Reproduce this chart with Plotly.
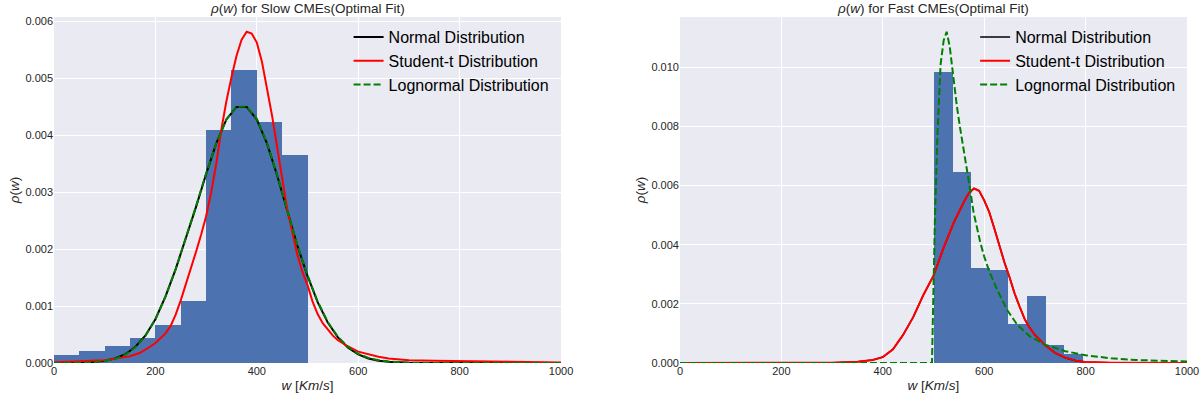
import plotly.graph_objects as go

# ---------------- data ----------------
# Slow CMEs histogram (bin edges km/s, density)
slow_edges = [0, 50, 100, 150, 200, 250, 300, 350, 400, 450, 500]
slow_density = [0.000147, 0.000206, 0.00030, 0.000448, 0.000673, 0.001097,
                0.004094, 0.00514, 0.00424, 0.00365]

# Slow CMEs: normal fit (lognormal nearly identical)
slow_norm_x = [0, 20, 40, 60, 80, 100, 120, 140, 160, 180, 200, 220, 240, 260,
               280, 300, 320, 340, 360, 380, 400, 420, 440, 460, 480, 500, 520,
               540, 560, 580, 600, 620, 640, 660, 680, 700, 750, 800, 900, 1000]
slow_norm_y = [0.000001, 0.000002, 0.000005, 0.00001, 0.00002, 0.00004, 0.00008,
               0.00015, 0.00028, 0.00048, 0.00077, 0.00117, 0.00165, 0.00218,
               0.00274, 0.00332, 0.00386, 0.00428, 0.0045, 0.0045, 0.00428,
               0.00386, 0.0033, 0.00268, 0.00206, 0.00153, 0.00107, 0.00071,
               0.00045, 0.00027, 0.00015, 0.00008, 0.00004, 0.00002, 0.00001,
               0.000004, 0.000001, 0.0, 0.0, 0.0]
slow_logn_x = slow_norm_x
slow_logn_y = [0.0, 0.0, 0.000002, 0.000006, 0.000015, 0.000035, 0.00007,
               0.00014, 0.00027, 0.00047, 0.00077, 0.00117, 0.00165, 0.00219,
               0.00275, 0.00333, 0.00386, 0.00428, 0.0045, 0.00451, 0.00429,
               0.00387, 0.00331, 0.00269, 0.00207, 0.00154, 0.00108, 0.00072,
               0.00046, 0.00028, 0.00016, 0.00009, 0.00005, 0.000025, 0.000012,
               0.000006, 0.000001, 0.0, 0.0, 0.0]

# Slow CMEs: Student-t fit
slow_t_x = [0, 50, 100, 130, 150, 170, 180, 190, 200, 210, 220, 230, 240, 250,
            260, 270, 280, 290, 300, 310, 320, 330, 340, 350, 360, 370, 380,
            390, 400, 410, 420, 430, 440, 450, 460, 470, 480, 490, 500, 510,
            520, 530, 540, 550, 560, 570, 580, 600, 620, 640, 660, 680, 700,
            750, 800, 900, 1000]
slow_t_y = [0.000015, 0.00003, 0.00005, 0.00009, 0.00012, 0.00018, 0.00023,
            0.00029, 0.00035, 0.00043, 0.00052, 0.00065, 0.00085, 0.0011,
            0.00137, 0.00165, 0.00195, 0.00225, 0.00258, 0.003, 0.0035, 0.0041,
            0.0046, 0.00502, 0.0054, 0.00568, 0.00582, 0.00579, 0.00563, 0.0053,
            0.00485, 0.00435, 0.0038, 0.00322, 0.0027, 0.0023, 0.0019, 0.0016,
            0.00137, 0.00108, 0.00086, 0.0007, 0.00058, 0.00048, 0.0004, 0.00034,
            0.00029, 0.0002, 0.00015, 0.00011, 0.00008, 0.00006, 0.00005,
            0.00004, 0.00003, 0.00002, 0.00001]

# Fast CMEs histogram
fast_edges = [501, 538, 574, 611, 647, 684, 721, 757, 794]
fast_density = [0.00983, 0.00645, 0.00321, 0.00314, 0.00132, 0.00226, 0.0006,
                0.000305]

# Fast CMEs: Student-t fit (normal fit lies underneath it)
fast_t_x = [0, 300, 350, 380, 400, 420, 440, 460, 480, 500, 520, 540, 560, 570,
            580, 590, 600, 610, 620, 630, 640, 650, 660, 670, 680, 690, 700,
            720, 740, 760, 780, 800, 850, 1000]
fast_t_y = [0.0, 0.00001, 0.00004, 0.0001, 0.0002, 0.00046, 0.00095, 0.00155,
            0.0023, 0.00295, 0.0039, 0.00475, 0.00545, 0.00575, 0.0059,
            0.00582, 0.0055, 0.0051, 0.00455, 0.00395, 0.0034, 0.0029, 0.00235,
            0.0019, 0.00148, 0.00118, 0.00095, 0.0006, 0.00034, 0.00018,
            0.00008, 0.00003, 0.00001, 0.0]
fast_norm_x = fast_t_x
fast_norm_y = fast_t_y

# Fast CMEs: lognormal fit
fast_logn_x = [0, 497, 500, 503, 508, 514, 520, 526, 532, 539, 546, 552, 559,
               566, 572, 579, 586, 592, 600, 610, 625, 645, 665, 690, 720, 760,
               800, 850, 900, 950, 1000]
fast_logn_y = [0.0, 0.0, 0.0025, 0.005, 0.0078, 0.0101, 0.0109, 0.0112, 0.0107,
               0.0096, 0.0087, 0.008, 0.0073, 0.0066, 0.0059, 0.0051, 0.0045,
               0.0041, 0.0036, 0.0031, 0.0025, 0.0018, 0.0013, 0.0009, 0.00062,
               0.0004, 0.00026, 0.00016, 0.0001, 0.00007, 0.00005]

x_ticks = [0, 200, 400, 600, 800, 1000]
slow_y_ticks = [0.000, 0.001, 0.002, 0.003, 0.004, 0.005, 0.006]
fast_y_ticks = [0.000, 0.002, 0.004, 0.006, 0.008, 0.010]

legend_names = ["Normal Distribution", "Student-t Distribution", "Lognormal Distribution"]
titles = ["<i>ρ</i>(<i>w</i>) for Slow CMEs(Optimal Fit)",
          "<i>ρ</i>(<i>w</i>) for Fast CMEs(Optimal Fit)"]

# ---------------- figure ----------------
FONT = "Liberation Sans, Arial, sans-serif"
BAR = "#4C72B0"
TXT = "#262626"
fig = go.Figure()


def centers(edges):
    return [(a + b) / 2 for a, b in zip(edges[:-1], edges[1:])]


def widths(edges):
    return [b - a for a, b in zip(edges[:-1], edges[1:])]


panels = [
    ("x", "y", "legend", slow_edges, slow_density,
     (slow_norm_x, slow_norm_y), (slow_t_x, slow_t_y), (slow_logn_x, slow_logn_y), 2.0),
    ("x2", "y2", "legend2", fast_edges, fast_density,
     (fast_norm_x, fast_norm_y), (fast_t_x, fast_t_y), (fast_logn_x, fast_logn_y), 1.6),
]

for xa, ya, lg, edges, dens, nrm, stt, lgn, nw in panels:
    fig.add_trace(go.Bar(x=centers(edges), y=dens, width=widths(edges),
                         marker=dict(color=BAR, line=dict(width=0)),
                         xaxis=xa, yaxis=ya, showlegend=False, legend=lg))
    fig.add_trace(go.Scatter(x=nrm[0], y=nrm[1], mode="lines", name=legend_names[0],
                             line=dict(color="black", width=nw),
                             xaxis=xa, yaxis=ya, legend=lg))
    fig.add_trace(go.Scatter(x=stt[0], y=stt[1], mode="lines", name=legend_names[1],
                             line=dict(color="#FF0000", width=2),
                             xaxis=xa, yaxis=ya, legend=lg))
    fig.add_trace(go.Scatter(x=lgn[0], y=lgn[1], mode="lines", name=legend_names[2],
                             line=dict(color="#008000", width=2, dash="7px,3px"),
                             xaxis=xa, yaxis=ya, legend=lg))

axis_common = dict(showgrid=True, gridcolor="white", gridwidth=1.3, zeroline=False,
                   showline=False, ticks="", automargin=False,
                   tickfont=dict(family=FONT, size=11, color=TXT))

xtitle = dict(text="<i>w</i> [<i>Km</i>/<i>s</i>]", font=dict(family=FONT, size=13.5, color=TXT),
              standoff=4)
ytitle = dict(text="<i>ρ</i>(<i>w</i>)", font=dict(family=FONT, size=13.5, color=TXT),
              standoff=2)

fig.update_layout(
    width=1200, height=398,
    margin=dict(l=54, r=13, t=17, b=35),
    paper_bgcolor="white", plot_bgcolor="#EAEAF2",
    bargap=0,
    xaxis=dict(domain=[0, 0.4475], range=[0, 1000], tickvals=x_ticks,
               title=xtitle, **axis_common),
    yaxis=dict(domain=[0, 1], range=[0, 0.00608], tickvals=slow_y_ticks,
               tickformat=".3f", title=ytitle, **axis_common),
    xaxis2=dict(domain=[0.5525, 1], range=[0, 1000], tickvals=x_ticks, anchor="y2",
                title=xtitle, **axis_common),
    yaxis2=dict(domain=[0, 1], range=[0, 0.0117], tickvals=fast_y_ticks, anchor="x2",
                tickformat=".3f", title=ytitle, **axis_common),
    legend=dict(x=0.260, y=0.991, xanchor="left", yanchor="top", bgcolor="rgba(0,0,0,0)",
                font=dict(family=FONT, size=16, color="black"), tracegroupgap=0),
    legend2=dict(x=0.813, y=0.991, xanchor="left", yanchor="top", bgcolor="rgba(0,0,0,0)",
                 font=dict(family=FONT, size=16, color="black"), tracegroupgap=0),
    annotations=[
        dict(text=titles[0], xref="paper", yref="paper",
             x=0.4475 / 2, y=1.0, yshift=9, xanchor="center", yanchor="middle", showarrow=False,
             font=dict(family=FONT, size=13.5, color=TXT)),
        dict(text=titles[1], xref="paper", yref="paper",
             x=(0.5525 + 1) / 2, y=1.0, yshift=9, xanchor="center", yanchor="middle", showarrow=False,
             font=dict(family=FONT, size=13.5, color=TXT)),
    ],
)

fig.write_html("out.html",
               config={"displayModeBar": False},
               post_script="document.body.style.margin='0';document.body.style.overflow='hidden';")
